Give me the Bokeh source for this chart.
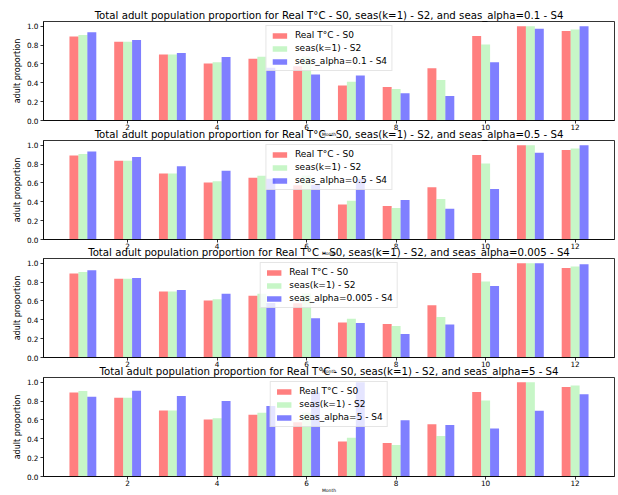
from bokeh.plotting import figure
from bokeh.layouts import column
from bokeh.models import (Range1d, FixedTicker, Legend, LegendItem,
                          ColumnDataSource, NumeralTickFormatter)
from bokeh.transform import dodge
from bokeh.embed import file_html
from bokeh.resources import INLINE

# ---------------- data ----------------
months = [1, 2, 3, 4, 5, 6, 7, 8, 9, 10, 11, 12]
real_s0 = [0.890, 0.835, 0.700, 0.605, 0.655, 0.575, 0.372, 0.355, 0.553, 0.897, 1.000, 0.948]
seas_s2 = [0.908, 0.835, 0.700, 0.618, 0.675, 0.680, 0.412, 0.333, 0.430, 0.805, 1.000, 0.965]
s4_alpha_01 = [0.936, 0.855, 0.716, 0.674, 0.560, 0.487, 0.477, 0.290, 0.259, 0.617, 0.972, 1.000]
s4_alpha_05 = [0.933, 0.876, 0.777, 0.730, 0.645, 0.580, 0.644, 0.418, 0.326, 0.535, 0.920, 1.000]
s4_alpha_0005 = [0.925, 0.843, 0.716, 0.675, 0.578, 0.415, 0.366, 0.250, 0.349, 0.758, 1.000, 0.988]
s4_alpha_5 = [0.845, 0.910, 0.853, 0.800, 0.747, 0.892, 1.000, 0.596, 0.546, 0.509, 0.697, 0.872]
alpha_labels = ["0.1", "0.5", "0.005", "5"]
x_ticks = [2, 4, 6, 8, 10, 12]
y_ticks = [0.0, 0.2, 0.4, 0.6, 0.8, 1.0]
label_s0 = "Real T°C - S0"
label_s2 = "seas(k=1) - S2"
y_label = "adult proportion"
x_label = "Month"

FONT = "DejaVu Sans"
series4 = [s4_alpha_01, s4_alpha_05, s4_alpha_0005, s4_alpha_5]
# (figure height, min border top, css style) per panel
panel_box = [
    (139, 21, None),
    (132, 14, {"margin-top": "-13px"}),
    (132, 14, {"margin-top": "-14px"}),
    (132, 14, {"margin-top": "-13px"}),
]


def make_panel(s4, alpha_label, box):
    h, top, style = box
    src = ColumnDataSource(dict(month=months, s0=real_s0, s2=seas_s2, s4=s4))
    title = ("Total adult population proportion for Real T°C - S0, seas(k=1) - S2, "
             f"and seas_alpha={alpha_label} - S4")
    p = figure(width=615, height=h, title=title,
               x_range=Range1d(0.12, 12.88), y_range=Range1d(0, 1.05),
               output_backend="svg", toolbar_location=None,
               min_border_left=43, min_border_right=1,
               min_border_top=top, min_border_bottom=19)
    p.border_fill_color = None
    p.background_fill_color = "white"
    p.outline_line_color = "black"
    p.outline_line_width = 0.8
    p.grid.visible = False

    p.title.text_font = FONT
    p.title.text_font_size = "10.2px"
    p.title.text_font_style = "normal"
    p.title.text_color = "black"
    p.title.align = "center"
    p.title.standoff = 1

    r0 = p.vbar(x=dodge("month", -0.2, range=p.x_range), top="s0", width=0.2,
                source=src, fill_color="red", fill_alpha=0.5, line_color=None)
    r2 = p.vbar(x="month", top="s2", width=0.2, source=src,
                fill_color="lightgreen", fill_alpha=0.5, line_color=None)
    r4 = p.vbar(x=dodge("month", 0.2, range=p.x_range), top="s4", width=0.2,
                source=src, fill_color="blue", fill_alpha=0.5, line_color=None)

    for ax in (p.xaxis[0], p.yaxis[0]):
        ax.axis_line_color = "black"
        ax.axis_line_width = 0.8
        ax.major_tick_line_color = "black"
        ax.major_tick_line_width = 0.8
        ax.major_tick_out = 3
        ax.major_tick_in = 0
        ax.minor_tick_line_color = None
        ax.major_label_text_font = FONT
        ax.major_label_text_font_size = "7.3px"
        ax.major_label_text_color = "black"
        ax.axis_label_text_font = FONT
        ax.axis_label_text_font_style = "normal"
        ax.axis_label_text_color = "black"

    p.xaxis.ticker = FixedTicker(ticks=x_ticks)
    p.xaxis.major_label_standoff = 0
    p.xaxis.axis_label = x_label
    p.xaxis.axis_label_text_font_size = "4.5px"
    p.xaxis.axis_label_standoff = -1

    p.yaxis.ticker = FixedTicker(ticks=y_ticks)
    p.yaxis.formatter = NumeralTickFormatter(format="0.0")
    p.yaxis.major_label_standoff = 2
    p.yaxis.axis_label = y_label
    p.yaxis.axis_label_text_font_size = "8px"
    p.yaxis.axis_label_standoff = 2

    legend = Legend(items=[LegendItem(label=label_s0, renderers=[r0]),
                           LegendItem(label=label_s2, renderers=[r2]),
                           LegendItem(label=f"seas_alpha={alpha_label} - S4", renderers=[r4])],
                    location="top_center", orientation="vertical")
    legend.margin = 4
    legend.padding = 4
    legend.spacing = 3
    legend.label_height = 10
    legend.glyph_height = 7
    legend.glyph_width = 18
    legend.label_standoff = 7
    legend.label_text_font = FONT
    legend.label_text_font_size = "9px"
    legend.label_text_color = "black"
    legend.background_fill_color = "white"
    legend.background_fill_alpha = 0.8
    legend.border_line_color = "#cccccc"
    legend.border_line_width = 1
    p.add_layout(legend, "center")

    if style:
        p.styles = style
    return p


panels = [make_panel(s, a, b) for s, a, b in zip(series4, alpha_labels, panel_box)]
layout = column(*panels, spacing=0)
layout.styles = {"overflow": "hidden", "max-height": "495px"}

open("out.html", "w").write(file_html(layout, INLINE))
